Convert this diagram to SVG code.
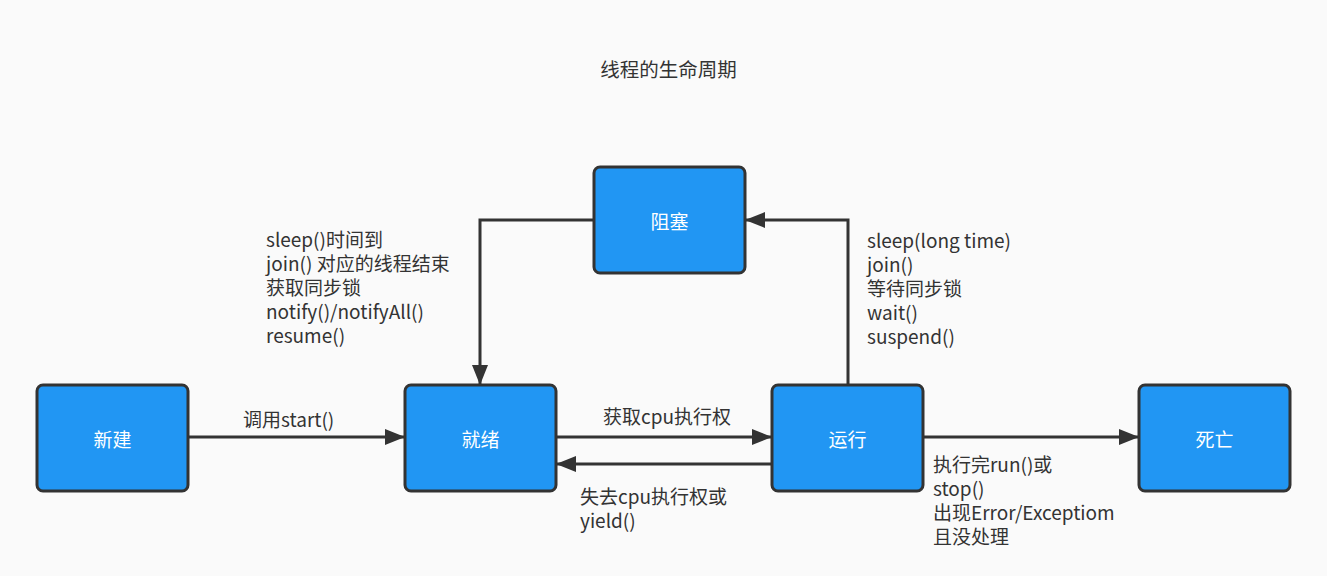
<svg xmlns="http://www.w3.org/2000/svg" width="1327" height="576" viewBox="0 0 1327 576">
<style>
.node rect{fill:#2196f3;stroke:#333;stroke-width:3}
.node text{fill:#fff;font-size:19px;text-anchor:middle;font-family:"Noto Sans CJK SC",sans-serif}
.lbl{fill:#333;font-size:19px;font-family:"Noto Sans CJK SC",sans-serif}
.edge{fill:none;stroke:#333;stroke-width:3}
</style>
<defs>
<marker id="arr" viewBox="0 0 20 16" refX="20" refY="8" markerWidth="20" markerHeight="16" markerUnits="userSpaceOnUse" orient="auto">
<path d="M0,0 L20,8 L0,16 Z" fill="#333"/>
</marker>
</defs>
<rect width="1327" height="576" fill="#fafafa"/>
<text class="lbl" x="668.5" y="77" text-anchor="middle" style="font-size:19.5px">线程的生命周期</text>
<g id="connectors">
<path class="edge" d="M188,437 L405,437" marker-end="url(#arr)"/>
<path class="edge" d="M556,437 L772,437" marker-end="url(#arr)"/>
<path class="edge" d="M772,464 L556,464" marker-end="url(#arr)"/>
<path class="edge" d="M923,437 L1139,437" marker-end="url(#arr)"/>
<path class="edge" d="M848,385 L848,220 L745,220" marker-end="url(#arr)"/>
<path class="edge" d="M594,220 L480,220 L480,385" marker-end="url(#arr)"/>
<text class="lbl" x="243" y="427">调用start()</text>
<text class="lbl" x="603" y="424">获取cpu执行权</text>
<text class="lbl"><tspan x="580" y="504">失去cpu执行权或</tspan><tspan x="580" y="528">yield()</tspan></text>
<text class="lbl"><tspan x="933" y="472">执行完run()或</tspan><tspan x="933" y="496">stop()</tspan><tspan x="933" y="520">出现Error/Exceptiom</tspan><tspan x="933" y="544">且没处理</tspan></text>
<text class="lbl"><tspan x="266" y="247">sleep()时间到</tspan><tspan x="266" y="271">join() 对应的线程结束</tspan><tspan x="266" y="295">获取同步锁</tspan><tspan x="266" y="319">notify()/notifyAll()</tspan><tspan x="266" y="343">resume()</tspan></text>
<text class="lbl"><tspan x="867" y="248">sleep(long time)</tspan><tspan x="867" y="272">join()</tspan><tspan x="867" y="296">等待同步锁</tspan><tspan x="867" y="320">wait()</tspan><tspan x="867" y="344">suspend()</tspan></text>
</g>
<g id="node-new" class="node"><rect x="37" y="385" width="151" height="106" rx="6"/><text x="112.5" y="447">新建</text></g>
<g id="node-ready" class="node"><rect x="405" y="385" width="151" height="106" rx="6"/><text x="480.5" y="447">就绪</text></g>
<g id="node-running" class="node"><rect x="772" y="385" width="151" height="106" rx="6"/><text x="847.5" y="447">运行</text></g>
<g id="node-dead" class="node"><rect x="1139" y="385" width="151" height="106" rx="6"/><text x="1214.5" y="447">死亡</text></g>
<g id="node-blocked" class="node"><rect x="594" y="167" width="151" height="106" rx="6"/><text x="669.5" y="229">阻塞</text></g>
</svg>
